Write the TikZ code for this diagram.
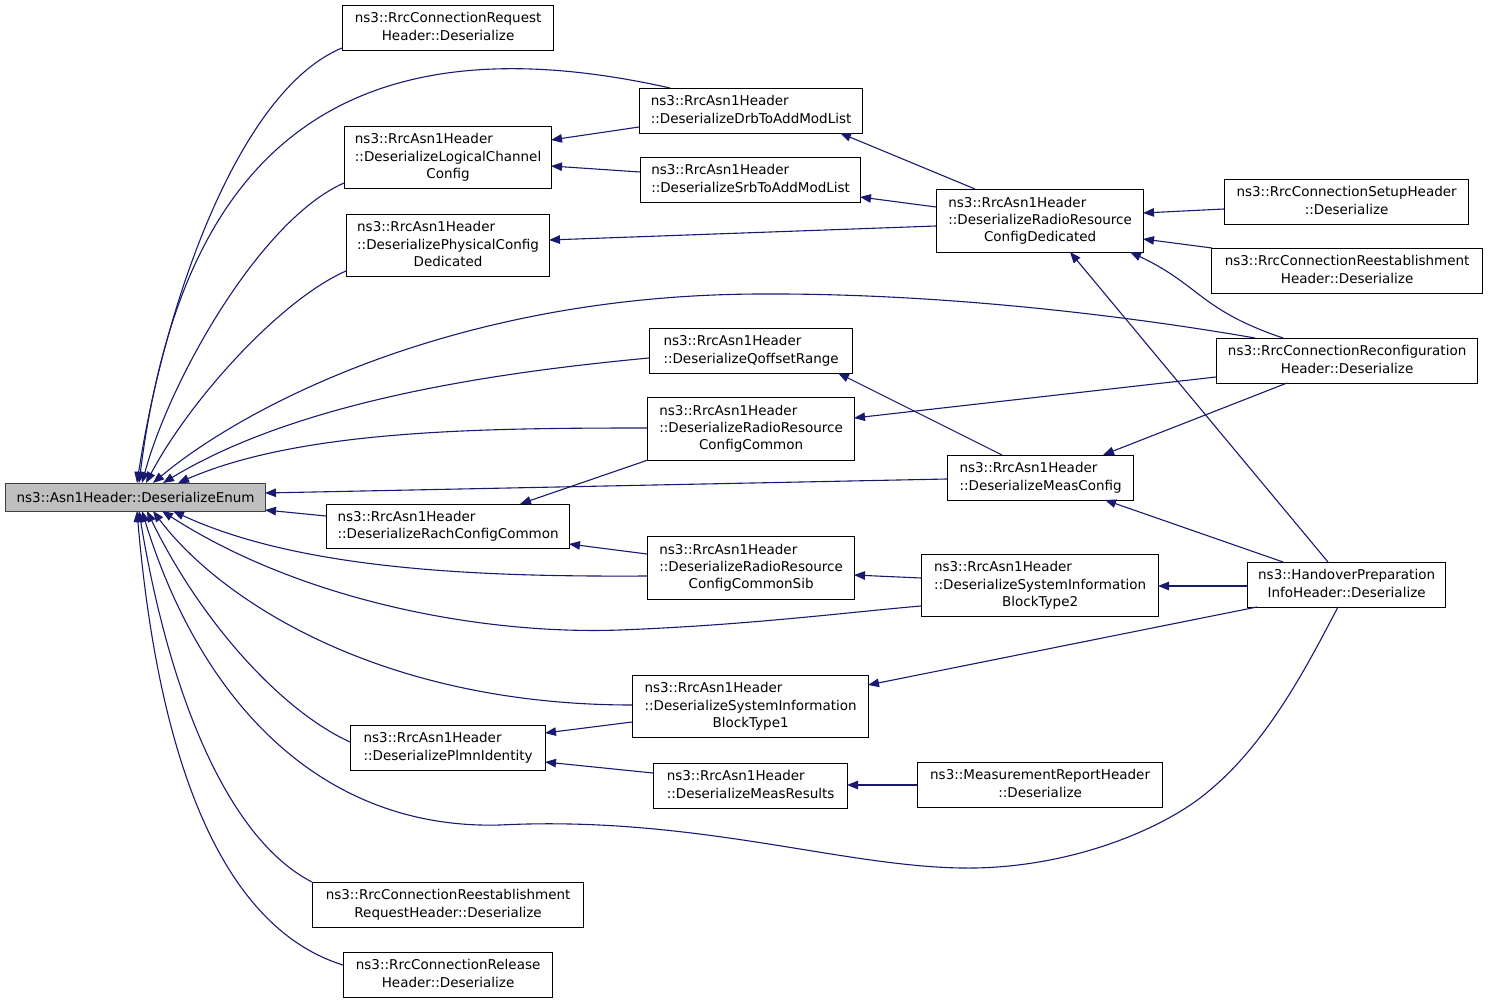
\documentclass[tikz,border=0pt]{standalone}
\usepackage{fontspec}
\setmainfont{DejaVu Sans}
\usetikzlibrary{arrows.meta,calc}
\definecolor{edgec}{RGB}{25,25,112}
\definecolor{rootfill}{RGB}{191,191,191}
\definecolor{rootdraw}{RGB}{64,64,64}
\newcommand\Ltwo[2]{\begin{tabular}{@{}l@{}}#1\\#2\end{tabular}}
\newcommand\Ctwo[2]{\begin{tabular}{@{}c@{}}#1\\#2\end{tabular}}
\newcommand\Lthree[3]{\begin{tabular}{@{}l@{}}#1\\#2\\\multicolumn{1}{@{}c@{}}{#3}\end{tabular}}
\begin{document}
\begin{tikzpicture}[x=1pt,y=-1pt,
  box/.style={draw=black,line width=1.2pt,fill=white,inner sep=0pt,anchor=north west,
    font=\fontsize{13.5}{17.2}\selectfont},
  rootbox/.style={box,fill=rootfill,draw=rootdraw},
  edge/.style={draw=edgec,line width=1.1pt,{Triangle[length=11pt,width=8.5pt]}-}]
\useasboundingbox (0,0) rectangle (1488,1003);

% nodes
\node[rootbox,minimum width=260pt,minimum height=28pt] (root) at (5,483) {ns3::Asn1Header::DeserializeEnum};
\node[box,minimum width=211pt,minimum height=45pt] (req) at (342,5) {\Ctwo{ns3::RrcConnectionRequest}{Header::Deserialize}};
\node[box,minimum width=223pt,minimum height=45pt] (drb) at (639,88) {\Ltwo{ns3::RrcAsn1Header}{::DeserializeDrbToAddModList}};
\node[box,minimum width=207pt,minimum height=62pt] (logic) at (344,126) {\Lthree{ns3::RrcAsn1Header}{::DeserializeLogicalChannel}{Config}};
\node[box,minimum width=220pt,minimum height=45pt] (srb) at (640,157) {\Ltwo{ns3::RrcAsn1Header}{::DeserializeSrbToAddModList}};
\node[box,minimum width=203pt,minimum height=62pt] (phys) at (346,214) {\Lthree{ns3::RrcAsn1Header}{::DeserializePhysicalConfig}{Dedicated}};
\node[box,minimum width=207pt,minimum height=63pt] (rrd) at (936,189) {\Lthree{ns3::RrcAsn1Header}{::DeserializeRadioResource}{ConfigDedicated}};
\node[box,minimum width=244pt,minimum height=45pt] (setup) at (1224,179) {\Ctwo{ns3::RrcConnectionSetupHeader}{::Deserialize}};
\node[box,minimum width=271pt,minimum height=45pt] (reest) at (1211,248) {\Ctwo{ns3::RrcConnectionReestablishment}{Header::Deserialize}};
\node[box,minimum width=261pt,minimum height=45pt] (reconf) at (1216,338) {\Ctwo{ns3::RrcConnectionReconfiguration}{Header::Deserialize}};
\node[box,minimum width=203pt,minimum height=45pt] (qoff) at (649,328) {\Ltwo{ns3::RrcAsn1Header}{::DeserializeQoffsetRange}};
\node[box,minimum width=207pt,minimum height=63pt] (rrc) at (647,397) {\Lthree{ns3::RrcAsn1Header}{::DeserializeRadioResource}{ConfigCommon}};
\node[box,minimum width=186pt,minimum height=45pt] (meas) at (947,455) {\Ltwo{ns3::RrcAsn1Header}{::DeserializeMeasConfig}};
\node[box,minimum width=243pt,minimum height=44pt] (rach) at (326,504) {\Ltwo{ns3::RrcAsn1Header}{::DeserializeRachConfigCommon}};
\node[box,minimum width=207pt,minimum height=63pt] (sib) at (647,536) {\Lthree{ns3::RrcAsn1Header}{::DeserializeRadioResource}{ConfigCommonSib}};
\node[box,minimum width=237pt,minimum height=62pt] (sib2) at (921,554) {\Lthree{ns3::RrcAsn1Header}{::DeserializeSystemInformation}{BlockType2}};
\node[box,minimum width=198pt,minimum height=45pt] (hand) at (1247,562) {\Ctwo{ns3::HandoverPreparation}{InfoHeader::Deserialize}};
\node[box,minimum width=236pt,minimum height=62pt] (sib1) at (632,675) {\Lthree{ns3::RrcAsn1Header}{::DeserializeSystemInformation}{BlockType1}};
\node[box,minimum width=195pt,minimum height=45pt] (plmn) at (350,725) {\Ltwo{ns3::RrcAsn1Header}{::DeserializePlmnIdentity}};
\node[box,minimum width=194pt,minimum height=45pt] (mres) at (653,763) {\Ltwo{ns3::RrcAsn1Header}{::DeserializeMeasResults}};
\node[box,minimum width=245pt,minimum height=45pt] (mrep) at (917,762) {\Ctwo{ns3::MeasurementReportHeader}{::Deserialize}};
\node[box,minimum width=271pt,minimum height=45pt] (rreq) at (312,882) {\Ctwo{ns3::RrcConnectionReestablishment}{RequestHeader::Deserialize}};
\node[box,minimum width=209pt,minimum height=45pt] (rel) at (343,952) {\Ctwo{ns3::RrcConnectionRelease}{Header::Deserialize}};

% edges into root (top)
\draw[edge] ($(root.north west)+(132,0)$) .. controls (165,300) and (240,90) .. ($(req.north west)+(0,43)$);
\draw[edge] ($(root.north west)+(134,0)$) .. controls (175,200) and (300,5) .. ($(drb.north west)+(31,0)$);
\draw[edge] ($(root.north west)+(137,0)$) .. controls (170,380) and (260,220) .. ($(logic.north west)+(0,57)$);
\draw[edge] ($(root.north west)+(141,0)$) .. controls (190,400) and (280,300) .. ($(phys.north west)+(0,57)$);
\draw[edge] ($(root.north west)+(148,0)$) .. controls (240,410) and (450,295) .. (760,294) .. controls (950,293) and (1140,318) .. ($(reconf.north west)+(39,0)$);
\draw[edge] ($(root.north west)+(158,0)$) .. controls (300,400) and (500,372) .. ($(qoff.north west)+(0,30)$);
\draw[edge] ($(root.north west)+(173,0)$) .. controls (300,430) and (480,428) .. ($(rrc.north west)+(0,31)$);
% edges into root (side)
\draw[edge] ($(root.north west)+(260,10)$) -- ($(meas.north west)+(0,24)$);
\draw[edge] ($(root.north west)+(260,27)$) -- ($(rach.north west)+(0,12)$);
% edges into root (bottom)
\draw[edge] ($(root.north west)+(168,28)$) .. controls (300,570) and (480,577) .. ($(sib.north west)+(0,40)$);
\draw[edge] ($(root.north west)+(157,28)$) .. controls (300,600) and (480,635) .. (620,630) .. controls (750,625) and (850,612) .. ($(sib2.north west)+(0,52)$);
\draw[edge] ($(root.north west)+(148,28)$) .. controls (220,600) and (380,705) .. ($(sib1.north west)+(0,30)$);
\draw[edge] ($(root.north west)+(142,28)$) .. controls (200,620) and (280,710) .. ($(plmn.north west)+(0,17)$);
\draw[edge] ($(root.north west)+(137,28)$) .. controls (200,700) and (320,830) .. (500,825) .. controls (700,815) and (850,870) .. (975,868) .. controls (1080,866) and (1170,825) .. (1210,790) .. controls (1270,740) and (1310,660) .. ($(hand.north west)+(91,45)$);
\draw[edge] ($(root.north west)+(134,28)$) .. controls (170,700) and (230,840) .. (rreq.north west);
\draw[edge] ($(root.north west)+(132,28)$) .. controls (160,780) and (230,930) .. ($(rel.north west)+(0,13)$);

% other edges
\draw[edge] ($(logic.north west)+(207,14)$) -- ($(drb.north west)+(0,39)$);
\draw[edge] ($(logic.north west)+(207,40)$) -- ($(srb.north west)+(0,15)$);
\draw[edge] ($(drb.north west)+(201,45)$) -- ($(rrd.north west)+(39,0)$);
\draw[edge] ($(srb.north west)+(220,40)$) -- ($(rrd.north west)+(0,18)$);
\draw[edge] ($(phys.north west)+(203,26)$) -- ($(rrd.north west)+(0,37)$);
\draw[edge] ($(rrd.north west)+(207,24)$) -- ($(setup.north west)+(0,30)$);
\draw[edge] ($(rrd.north west)+(207,50)$) -- ($(reest.north west)+(1,0)$);
\draw[edge] ($(rrd.north west)+(194,63)$) .. controls (1200,285) and (1200,310) .. ($(reconf.north west)+(67,0)$);
\draw[edge] ($(rrd.north west)+(134,63)$) -- ($(hand.north west)+(81,0)$);
\draw[edge] ($(qoff.north west)+(189,45)$) -- ($(meas.north west)+(55,0)$);
\draw[edge] ($(rrc.north west)+(207,21)$) -- ($(reconf.north west)+(0,39)$);
\draw[edge] ($(meas.north west)+(156,0)$) -- ($(reconf.north west)+(71,45)$);
\draw[edge] ($(meas.north west)+(158,45)$) -- ($(hand.north west)+(36,0)$);
\draw[edge] ($(rach.north west)+(194,0)$) -- ($(rrc.north west)+(1,63)$);
\draw[edge] ($(rach.north west)+(243,40)$) -- ($(sib.north west)+(0,18)$);
\draw[edge] ($(sib.north west)+(207,39)$) -- ($(sib2.north west)+(0,24)$);
\draw[edge] ($(sib2.north west)+(237,32)$) -- ($(hand.north west)+(0,24)$);
\draw[edge] ($(sib1.north west)+(236,10)$) -- ($(hand.north west)+(10,45)$);
\draw[edge] ($(plmn.north west)+(195,8)$) -- ($(sib1.north west)+(0,47)$);
\draw[edge] ($(plmn.north west)+(195,37)$) -- ($(mres.north west)+(0,10)$);
\draw[edge] ($(mres.north west)+(194,22)$) -- ($(mrep.north west)+(0,23)$);
\end{tikzpicture}
\end{document}
